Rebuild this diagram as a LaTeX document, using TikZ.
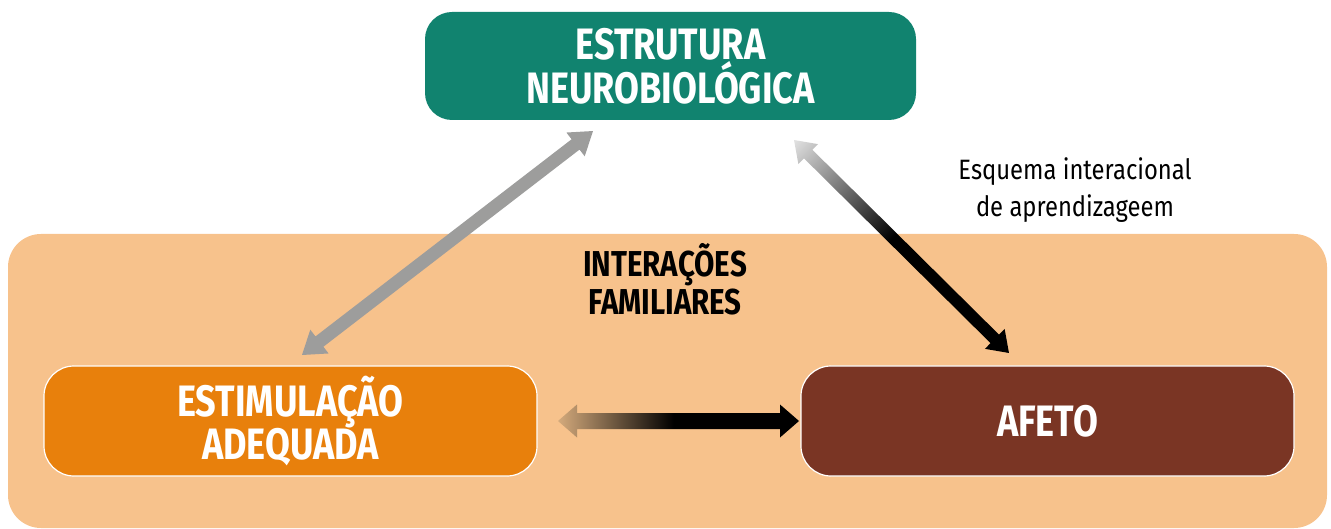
\documentclass[tikz,border=0pt]{standalone}
\usepackage{fontspec}
\setmainfont{Fira Sans}
\newfontfamily\hf[FakeStretch=0.82]{Fira Sans}
\newfontfamily\lf[FakeStretch=0.85]{Fira Sans}
\usetikzlibrary{calc}
\definecolor{peach}{HTML}{F7C28C}
\definecolor{teal}{HTML}{11836F}
\definecolor{orangebox}{HTML}{E8800C}
\definecolor{brownbox}{HTML}{7A3524}
\definecolor{arrowgray}{HTML}{9D9D9C}
\definecolor{tanfade}{HTML}{D4AA7C}
\definecolor{lightfade}{HTML}{E2E2E2}
\pgfdeclarehorizontalshading{fadediag}{100bp}{color(0bp)=(lightfade); color(25bp)=(lightfade); color(48bp)=(black); color(100bp)=(black)}
\pgfdeclarehorizontalshading{fadehor}{100bp}{color(0bp)=(tanfade); color(25bp)=(tanfade); color(49bp)=(black); color(100bp)=(black)}
\newcommand{\dblarrow}[6]{%
  \pgfpointdiff{\pgfpointanchor{#1}{center}}{\pgfpointanchor{#2}{center}}%
  \pgfgetlastxy{\arDx}{\arDy}%
  \pgfmathsetmacro{\arAng}{atan2(\arDy,\arDx)}%
  \pgfmathsetmacro{\arLen}{veclen(\arDx,\arDy)}%
  \pgfmathsetmacro{\arLh}{\arLen-#4}%
  \begin{scope}[transform canvas={shift={(#1)},rotate=\arAng}]
    \path[#6] (0pt,0pt) -- (#4pt,#5pt) -- (#4pt,#3pt) -- (\arLh pt,#3pt) -- (\arLh pt,#5pt)
      -- (\arLen pt,0pt) -- (\arLh pt,-#5pt) -- (\arLh pt,-#3pt) -- (#4pt,-#3pt) -- (#4pt,-#5pt) -- cycle;
  \end{scope}}
\tikzset{
  box/.style={rounded corners=30pt, minimum width=493pt, minimum height=110pt, align=center,
    text=white, font=\hf\bfseries\fontsize{44}{40}\selectfont, inner sep=0pt},
  plain/.style={align=center, inner sep=0pt}
}
\begin{document}
\begin{tikzpicture}[x=1pt,y=-1pt]
\useasboundingbox (0,0) rectangle (1331,529);
\fill[peach, rounded corners=33pt] (8,234) rectangle (1327,528);
\node[box, fill=teal, minimum width=491pt, minimum height=108pt, rounded corners=27pt] (top) at (670.5,66) {ESTRUTURA\\NEUROBIOLÓGICA};
\node[box, fill=orangebox, draw=white, line width=1.2pt] (left) at (290.5,421) {ESTIMULAÇÃO\\ADEQUADA};
\node[box, fill=brownbox, draw=white, line width=1.2pt] (right) at (1047.5,421) {AFETO};
\node[plain, font=\hf\bfseries\fontsize{36}{38}\selectfont] (fam) at (665,279) {INTERAÇÕES\\FAMILIARES};
\node[plain, font=\lf\fontsize{28}{37}\selectfont] (esq) at (1075,190) {Esquema interacional\\de aprendizageem};
\coordinate (g1) at (302,355);
\coordinate (g2) at (593,131);
\coordinate (d1) at (794,140);
\coordinate (d2) at (1009,353);
\coordinate (h1) at (558,421);
\coordinate (h2) at (799,421);
\dblarrow{g1}{g2}{6.5}{22}{15}{fill=arrowgray}
\dblarrow{d1}{d2}{6}{20}{14}{shading=fadediag}
\dblarrow{h1}{h2}{8}{19}{16.5}{shading=fadehor}
\end{tikzpicture}
\end{document}
